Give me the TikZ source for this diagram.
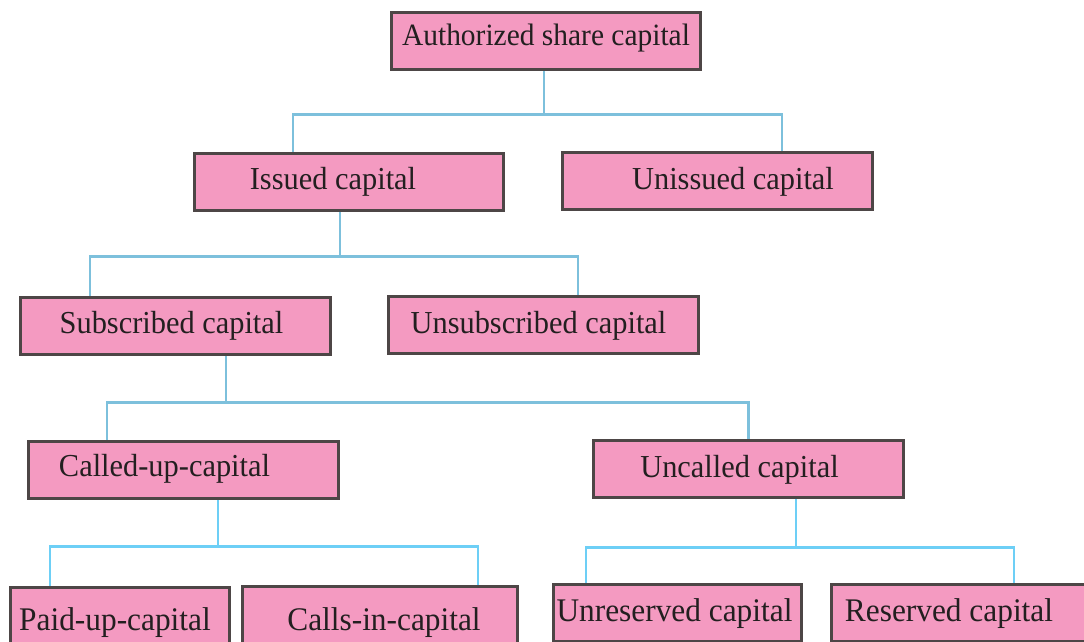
\documentclass[tikz,border=0pt]{standalone}
\usepackage{fontspec}
\setmainfont{Liberation Serif}[FakeStretch=0.95]
\usetikzlibrary{backgrounds}
\definecolor{pinkfill}{HTML}{F49AC1}
\definecolor{boxline}{HTML}{4D4646}
\definecolor{textdark}{HTML}{231F20}
\definecolor{connA}{HTML}{7DC0DC}
\definecolor{connB}{HTML}{6DCFF6}
\newcommand\bt[3]{\makebox[0pt]{\hspace*{#1pt}\raisebox{#2pt}{#3}}}
\begin{document}
\begin{tikzpicture}[x=1pt,y=-1pt,
  box/.style={draw=boxline, line width=3pt, fill=pinkfill, minimum height=57pt,
    inner sep=0pt, text height=0pt, text depth=0pt,
    font=\fontsize{32}{36}\selectfont, text=textdark},
  lowbox/.style={box, font=\fontsize{33}{37}\selectfont},
  conn/.style={line width=2.8pt, draw=connA},
  connlow/.style={line width=2.8pt, draw=connB}]
\clip (0,0) rectangle (1084,641);

\node[box, minimum width=309pt, font=\fontsize{31}{35}\selectfont] (auth) at (546,41) {\bt{0}{-4}{Authorized share capital}};
\node[box, minimum width=309pt] (issued) at (349,182) {\bt{-32}{-7}{Issued capital}};
\node[box, minimum width=310pt] (unissued) at (717.5,181) {\bt{31}{-8}{Unissued capital}};
\node[box, minimum width=310pt] (subscr) at (175.5,326) {\bt{-8}{-7}{Subscribed capital}};
\node[box, minimum width=310pt] (unsubscr) at (543.5,325) {\bt{-10}{-8.5}{Unsubscribed capital}};
\node[box, minimum width=310pt] (calledup) at (183.5,470) {\bt{-38}{-6.7}{Called-up-capital}};
\node[box, minimum width=310pt] (uncalled) at (748.5,469) {\bt{-18}{-8.7}{Uncalled capital}};
\node[lowbox, minimum width=219pt] (paidup) at (120,616) {\bt{-10}{-14}{Paid-up-capital}};
\node[lowbox, minimum width=275pt] (callsin) at (380,615) {\bt{8}{-15}{Calls-in-capital}};
\node[lowbox, minimum width=248pt] (unreserved) at (677.5,613) {\bt{-6}{-8.7}{Unreserved capital}};
\node[lowbox, minimum width=257pt] (reserved) at (960,613) {\bt{-22}{-8.7}{Reserved capital}};

\begin{scope}[on background layer]
\fill[white] (0,0) rectangle (1084,641);
% level 1
\draw[conn] ([xshift=-2pt]auth.south) -- ++(0,43.5) coordinate (j1) -| ([xshift=-56pt]issued.north);
\draw[conn] (j1) -| ([xshift=64.5pt]unissued.north);
% level 2
\draw[conn] ([xshift=-9pt]issued.south) -- ++(0,44.5) coordinate (j2) -| ([xshift=-85.5pt]subscr.north);
\draw[conn] (j2) -| ([xshift=34.5pt]unsubscr.north);
% level 3
\draw[conn] ([xshift=50.5pt]subscr.south) -- ++(0,46.5) coordinate (j3) -| ([xshift=-76.5pt]calledup.north);
\draw[conn] (j3) -| (uncalled.north);
% level 4
\draw[connlow] ([xshift=34.5pt]calledup.south) -- ++(0,46.5) coordinate (j4) -| ([xshift=-70pt]paidup.north);
\draw[connlow] (j4) -| ([xshift=98pt]callsin.north);
\draw[connlow] ([xshift=47.5pt]uncalled.south) -- ++(0,48.5) coordinate (j5) -| ([xshift=-91.5pt]unreserved.north);
\draw[connlow] (j5) -| ([xshift=54pt]reserved.north);
\end{scope}
\end{tikzpicture}
\end{document}
